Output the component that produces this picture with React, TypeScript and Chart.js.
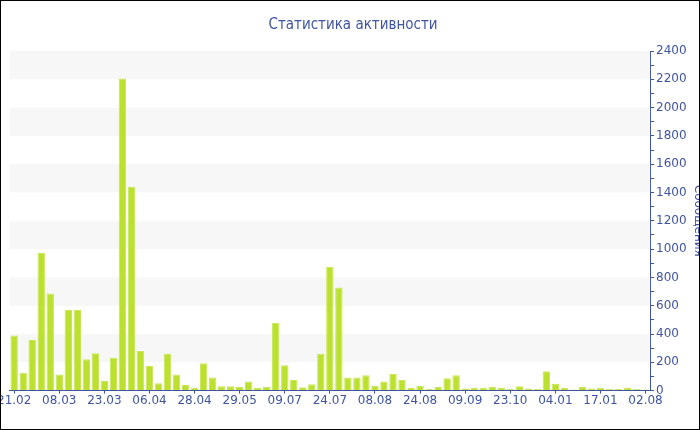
import React, { useEffect, useRef } from "react";
import { Chart, registerables } from "chart.js";

Chart.register(...registerables);

const tickLabels = [
  "21.02", "08.03", "23.03", "06.04", "28.04", "29.05", "09.07", "24.07",
  "08.08", "24.08", "09.09", "23.10", "04.01", "17.01", "02.08",
];

const messages = [
  390, 127, 358, 972, 687, 113, 570, 570, 221, 264,
  68, 233, 2205, 1440, 280, 174, 52, 259, 113, 40,
  21, 193, 92, 31, 31, 26, 64, 21, 28, 480,
  179, 75, 23, 45, 261, 873, 729, 92, 92, 108,
  33, 64, 118, 75, 19, 33, 12, 26, 87, 108,
  14, 21, 21, 28, 21, 12, 31, 14, 12, 136,
  49, 19, 8, 28, 14, 21, 12, 12, 21, 12,
  8,
];

const categories = messages.map((_, i) => (i % 5 === 0 ? tickLabels[i / 5] : ""));

const BLUE = "#3f55a0";

const bandsPlugin = {
  id: "bands",
  beforeDatasetsDraw(chart: any) {
    const { ctx, chartArea, scales } = chart;
    const y = scales.y;
    ctx.save();
    ctx.fillStyle = "#f7f7f7";
    for (let v = 200; v < 2400; v += 400) {
      const top = y.getPixelForValue(v + 200);
      const bot = y.getPixelForValue(v);
      ctx.fillRect(chartArea.left, top, chartArea.right - chartArea.left, bot - top);
    }
    ctx.restore();
  },
};

export default function App() {
  const ref = useRef<HTMLCanvasElement>(null);
  useEffect(() => {
    if (!ref.current) return;
    const chart = new Chart(ref.current, {
      type: "bar",
      data: {
        labels: categories,
        datasets: [
          {
            label: "Сообщения",
            data: messages,
            backgroundColor: "#bbe12e",
            borderColor: "#c8e656",
            borderWidth: 1,
            categoryPercentage: 1,
            barPercentage: 0.82,
          },
        ],
      },
      options: {
        responsive: false,
        animation: false,
        layout: { padding: { left: 0, right: 0, top: 0, bottom: 21 } },
        plugins: {
          legend: { display: false },
          tooltip: { enabled: false },
          title: {
            display: true,
            text: "Статистика активности",
            color: BLUE,
            font: { family: "'DejaVu Sans Condensed', 'DejaVu Sans'", size: 15, weight: "normal" },
            padding: { top: 15, bottom: 17 },
          },
        },
        scales: {
          x: {
            offset: true,
            border: { display: true, color: BLUE, width: 1 },
            grid: {
              offset: false,
              drawOnChartArea: false,
              drawTicks: true,
              tickLength: 3,
              color: (c: any) => (c.index % 5 === 0 ? BLUE : "transparent"),
            },
            ticks: {
              autoSkip: false,
              maxRotation: 0,
              padding: 0,
              color: BLUE,
              font: { family: "'DejaVu Sans'", size: 12 },
            },
          },
          y: {
            position: "right",
            min: 0,
            max: 2400,
            border: { display: true, color: BLUE, width: 1 },
            grid: {
              drawOnChartArea: false,
              drawTicks: true,
              tickLength: 4,
              color: BLUE,
            },
            ticks: {
              stepSize: 100,
              autoSkip: false,
              padding: 2,
              color: BLUE,
              font: { family: "'DejaVu Sans'", size: 12 },
              callback: (v: any) => (Number(v) % 200 === 0 ? String(v) : ""),
            },
            title: {
              display: true,
              text: "Сообщения",
              color: BLUE,
              font: { family: "'DejaVu Sans'", size: 12 },
              padding: { top: 4, bottom: 2 },
            },
          },
        },
      },
      plugins: [bandsPlugin],
    });
    return () => chart.destroy();
  }, []);

  return (
    <div
      style={{
        position: "fixed",
        left: 0,
        top: 0,
        width: 700,
        height: 430,
        border: "1px solid #000",
        boxSizing: "border-box",
        overflow: "hidden",
        background: "#fff",
      }}
    >
      <canvas
        ref={ref}
        width={712}
        height={428}
        style={{ position: "absolute", left: -4, top: 0, width: 712, height: 428 }}
      />
    </div>
  );
}
